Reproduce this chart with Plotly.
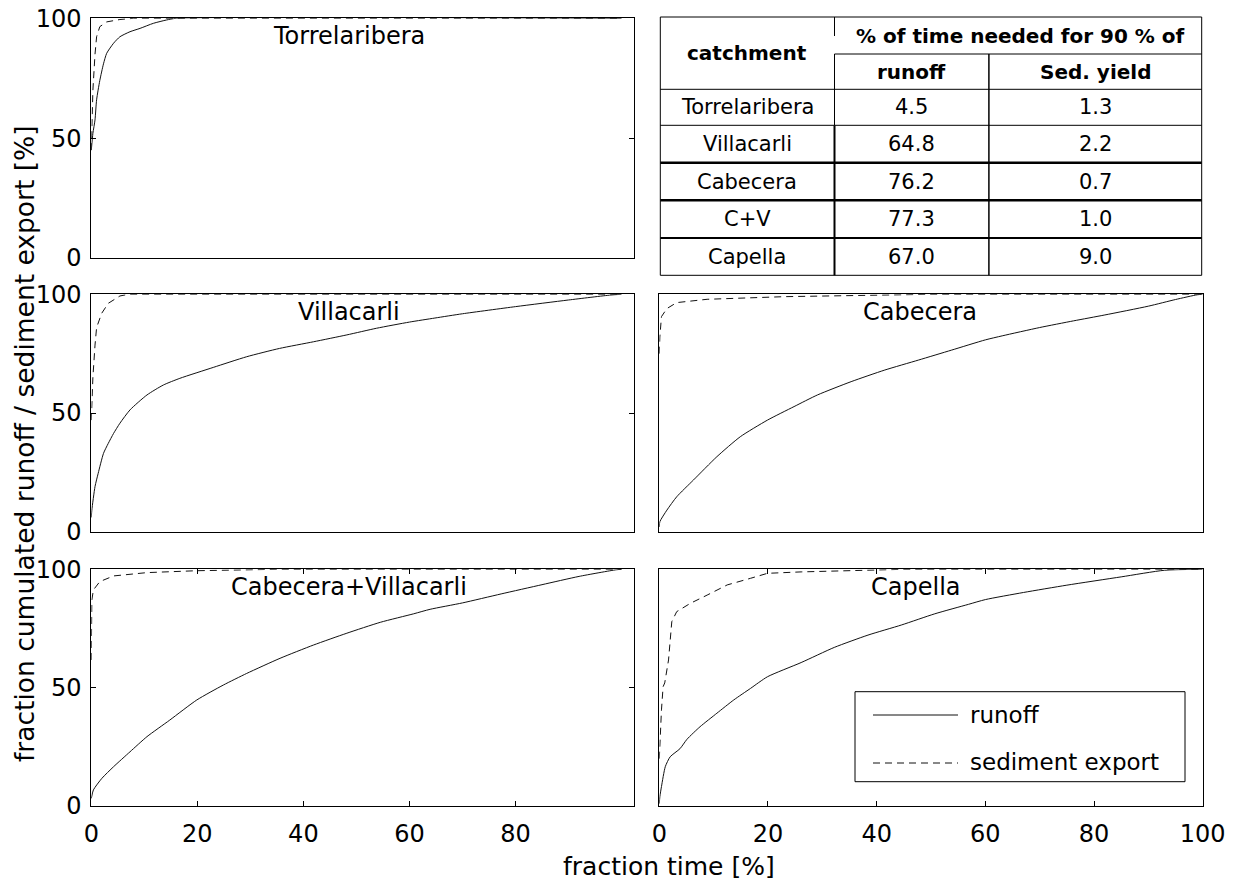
import plotly.graph_objects as go
from plotly.subplots import make_subplots

# ---------------- data ----------------
torre_runoff_x = [0, 0.3, 0.7, 1.0, 1.6, 2.3, 2.9, 4.2, 5.4, 7.3, 9.2, 11.7, 14.2, 16, 100]
torre_runoff_y = [45, 52, 57.6, 66, 74, 81, 85.4, 89.6, 92.3, 94.4, 95.8, 97.9, 99.3, 100, 100]
torre_sed_x = [0, 0.3, 0.7, 1.0, 1.6, 2.9, 5.4, 8, 100]
torre_sed_y = [45, 70, 85, 92.3, 96.5, 98.5, 99.5, 100, 100]

villa_runoff_x = [0, 0.1, 0.7, 1.3, 2.3, 3.2, 4.2, 5.4, 7.3, 10.5, 13.6, 16.7, 23, 29.3, 35.5,
                  41.9, 48.2, 53.8, 60, 64.8, 70, 80, 90, 98, 100]
villa_runoff_y = [6, 9.1, 19, 24.6, 33, 37.2, 41.4, 45.7, 51.3, 57.6, 61.8, 64.6, 69.2, 73.7, 77.2,
                  80, 82.9, 85.7, 88.3, 90, 91.8, 94.8, 97.6, 99.7, 100]
villa_sed_x = [0, 0.3, 0.7, 1.0, 1.96, 3.2, 5.4, 7, 100]
villa_sed_y = [47, 65, 78.6, 86, 92, 96.2, 99.3, 100, 100]

cabe_runoff_x = [0, 0.1, 1.4, 3.2, 6.3, 10.6, 14.9, 19.9, 24.8, 29.1, 35.3, 41.5, 47.7, 53.8,
                 60, 63.1, 70, 76.2, 82, 90, 95, 99, 100]
cabe_runoff_y = [2, 4.2, 9.1, 14.7, 21.8, 31.6, 40, 47, 52.7, 57.6, 63.2, 68.1, 72.3, 76.5,
                 80.8, 82.5, 86, 88.8, 91.3, 95, 97.8, 99.8, 100]
cabe_sed_x = [0, 0.1, 0.4, 1.4, 3.2, 8.8, 23, 41, 50, 100]
cabe_sed_y = [75, 82, 90.6, 94, 96.5, 97.9, 99, 99.6, 100, 100]

cv_runoff_x = [0, 0.4, 2, 4.2, 7.3, 10.5, 14.8, 19.9, 24.9, 29.3, 35.6, 41.9, 48.2, 54.5,
               60.8, 63.9, 70, 77.3, 85, 92, 99, 100]
cv_runoff_y = [3.2, 6.8, 11.7, 16.6, 22.9, 29.3, 36.3, 44.8, 51.1, 56, 62.4, 68, 73, 77.6,
               81.2, 83.1, 85.8, 89.6, 93.5, 97, 99.8, 100]
cv_sed_x = [0, 0.1, 0.4, 1.6, 4.2, 10.5, 19.9, 29.3, 35, 100]
cv_sed_y = [61.7, 87, 91.3, 94.8, 97.2, 98.6, 99.4, 99.7, 100, 100]

cap_runoff_x = [0, 0.1, 0.4, 1.1, 2, 3.8, 5.1, 7.5, 10.6, 13.7, 16.8, 19.9, 26.1, 32.2, 38.4,
                44.6, 50.7, 56.9, 60, 67, 75, 85, 93, 100]
cap_runoff_y = [1, 3.9, 8.2, 16.6, 20.8, 24.2, 28.2, 33.5, 39.2, 44.8, 49.7, 54.6, 60.6, 67.0, 72.2,
                76.5, 81.2, 85.2, 87.2, 90.2, 93.3, 96.8, 99.6, 100]
cap_sed_x = [0, 0.1, 0.4, 0.7, 1.0, 1.7, 2.0, 2.3, 3.2, 5.7, 8.8, 12.5, 16.8, 19.9, 26.1, 38.4, 45, 100]
cap_sed_y = [20, 27.2, 40.6, 50.4, 52, 61.7, 70, 77.9, 82.1, 85.6, 89.1, 93.4, 96.2, 98.3, 98.9, 99.7, 100, 100]

catchment_titles = ["Torrelaribera", "Villacarli", "Cabecera", "Cabecera+Villacarli", "Capella"]

table_catchments = ["Torrelaribera", "Villacarli", "Cabecera", "C+V", "Capella"]
table_runoff = ["4.5", "64.8", "76.2", "77.3", "67.0"]
table_sed = ["1.3", "2.2", "0.7", "1.0", "9.0"]

y_ticks = [0, 50, 100]
x_ticks_left = [0, 20, 40, 60, 80]
x_ticks_right = [0, 20, 40, 60, 80, 100]

# ---------------- layout helpers ----------------
W, H = 1237, 883
FONT = "DejaVu Sans"


def X(px):
    return px / W


def Y(py):
    return 1 - py / H


fig = make_subplots(rows=3, cols=2)

series = [
    (1, 1, torre_runoff_x, torre_runoff_y, torre_sed_x, torre_sed_y),
    (2, 1, villa_runoff_x, villa_runoff_y, villa_sed_x, villa_sed_y),
    (2, 2, cabe_runoff_x, cabe_runoff_y, cabe_sed_x, cabe_sed_y),
    (3, 1, cv_runoff_x, cv_runoff_y, cv_sed_x, cv_sed_y),
    (3, 2, cap_runoff_x, cap_runoff_y, cap_sed_x, cap_sed_y),
]

for r, c, rx, ry, sx, sy in series:
    fig.add_trace(go.Scatter(x=rx, y=ry, mode="lines",
                             line=dict(color="#111111", width=1, shape="spline", smoothing=0.6),
                             showlegend=False, name="runoff"), row=r, col=c)
    fig.add_trace(go.Scatter(x=sx, y=sy, mode="lines", line=dict(color="#111111", width=1, dash="7px,5px"),
                             showlegend=False, name="sediment export"), row=r, col=c)

# axis domains (pixel-measured)
xdom_left = [X(91.3), X(633.7)]
xdom_right = [X(659.3), X(1202.7)]
ydom = {1: [Y(258), Y(18.3)], 2: [Y(531.7), Y(294.3)], 3: [Y(806), Y(569.3)]}

base_axis = dict(showline=True, linecolor="black", linewidth=1, showgrid=False, zeroline=False,
                 tickcolor="black", ticklen=5, tickfont=dict(family=FONT, size=24, color="black"))

fig.update_xaxes(visible=False, row=1, col=2)
fig.update_yaxes(visible=False, row=1, col=2)

for r, c, *_ in series:
    xd = xdom_left if c == 1 else xdom_right
    xr = [0, 102.3] if c == 1 else [0, 100]
    xt = x_ticks_left if c == 1 else x_ticks_right
    if r == 3:
        fig.update_xaxes(**base_axis, domain=xd, range=xr, tickvals=xt, ticks="inside", mirror="ticks",
                         ticklabelstandoff=6, row=r, col=c)
    else:
        fig.update_xaxes(**base_axis, domain=xd, range=xr, ticks="", mirror=True,
                         showticklabels=False, row=r, col=c)
    if c == 1:
        fig.update_yaxes(**base_axis, domain=ydom[r], range=[0, 100], tickvals=y_ticks, ticks="inside",
                         mirror="ticks", ticklabelstandoff=4, row=r, col=c)
    else:
        fig.update_yaxes(**base_axis, domain=ydom[r], range=[0, 100], ticks="", mirror=True,
                         showticklabels=False, row=r, col=c)

annotations = []
title_pos = [(1, 1, 48.6), (2, 1, 48.6), (2, 2, 48.0), (3, 1, 48.6), (3, 2, 47.2)]
for (r, c, tx), t in zip(title_pos, catchment_titles):
    idx = (r - 1) * 2 + c
    sfx = "" if idx == 1 else str(idx)
    annotations.append(dict(x=tx, y=92.5, xref="x" + sfx, yref="y" + sfx, text=t, showarrow=False,
                            font=dict(family=FONT, size=24, color="black"), xanchor="center", yanchor="middle"))

annotations.append(dict(x=X(669), y=Y(866), xref="paper", yref="paper", text="fraction time [%]",
                        showarrow=False, font=dict(family=FONT, size=25, color="black"),
                        xanchor="center", yanchor="middle"))
annotations.append(dict(x=X(24), y=Y(444), xref="paper", yref="paper",
                        text="fraction cumulated runoff / sediment export [%]", textangle=-90,
                        showarrow=False, font=dict(family=FONT, size=26.5, color="black"),
                        xanchor="center", yanchor="middle"))

shapes = []


def line(x0, y0, x1, y1, w=1):
    shapes.append(dict(type="line", xref="paper", yref="paper", x0=X(x0), y0=Y(y0), x1=X(x1), y1=Y(y1),
                       line=dict(color="black", width=w)))


# ---------------- table ----------------
tx0, tc1, tc2, tx1 = 660.3, 834.5, 988.9, 1201.7
ty = [17, 54, 89.3, 125.3, 162.7, 200.3, 238, 275.3]
shapes.append(dict(type="rect", xref="paper", yref="paper", x0=X(tx0), y0=Y(ty[-1]), x1=X(tx1), y1=Y(ty[0]),
                   line=dict(color="black", width=1), fillcolor="rgba(0,0,0,0)"))
line(tc1, ty[1], tx1, ty[1])
line(tx0, ty[2], tx1, ty[2])
line(tx0, ty[3], tx1, ty[3])
line(tx0, ty[4], tx1, ty[4], 2.5)
line(tx0, ty[5], tx1, ty[5], 2.5)
line(tx0, ty[6], tx1, ty[6], 2)
line(tc1, ty[0], tc1, 36)
line(tc1, ty[1], tc1, ty[3])
line(tc1, ty[3], tc1, ty[-1], 2)
line(tc2, ty[1], tc2, ty[-1], 1.5)

bold = dict(family=FONT, size=20, color="black")
reg = dict(family=FONT, size=21, color="black")


def cell(x, y, text, font):
    annotations.append(dict(x=X(x), y=Y(y), xref="paper", yref="paper", text=text, showarrow=False,
                            font=font, xanchor="center", yanchor="middle"))


cell((tx0 + tc1) / 2, 53, "<b>catchment</b>", bold)
cell((tc1 + tx1) / 2 + 2, 36, "<b>% of time needed for 90 % of</b>", bold)
cell((tc1 + tc2) / 2, 72, "<b>runoff</b>", bold)
cell((tc2 + tx1) / 2, 72, "<b>Sed. yield</b>", bold)
for i, (name, ro, se) in enumerate(zip(table_catchments, table_runoff, table_sed)):
    yc = (ty[i + 2] + ty[i + 3]) / 2
    cell((tx0 + tc1) / 2, yc, name, reg)
    cell((tc1 + tc2) / 2, yc, ro, reg)
    cell((tc2 + tx1) / 2, yc, se, reg)

# ---------------- legend (drawn box) ----------------
shapes.append(dict(type="rect", xref="paper", yref="paper", x0=X(855), y0=Y(781.7), x1=X(1185), y1=Y(691.7),
                   line=dict(color="black", width=1), fillcolor="white"))
shapes.append(dict(type="line", xref="paper", yref="paper", x0=X(873), y0=Y(715), x1=X(958), y1=Y(715),
                   line=dict(color="#111111", width=1)))
shapes.append(dict(type="line", xref="paper", yref="paper", x0=X(873), y0=Y(763), x1=X(958), y1=Y(763),
                   line=dict(color="#111111", width=1, dash="7px,5px")))
for yy, t in [(715, "runoff"), (762, "sediment export")]:
    annotations.append(dict(x=X(968), y=Y(yy), xref="paper", yref="paper", text=t, showarrow=False,
                            font=dict(family=FONT, size=23, color="black"), xanchor="left", yanchor="middle"))

fig.update_layout(width=W, height=H, autosize=False,
                  margin=dict(l=0, r=0, t=0, b=0, pad=0, autoexpand=False),
                  paper_bgcolor="white", plot_bgcolor="white", showlegend=False,
                  annotations=annotations, shapes=shapes, font=dict(family=FONT, color="black"))

fig.write_html("out.html")
